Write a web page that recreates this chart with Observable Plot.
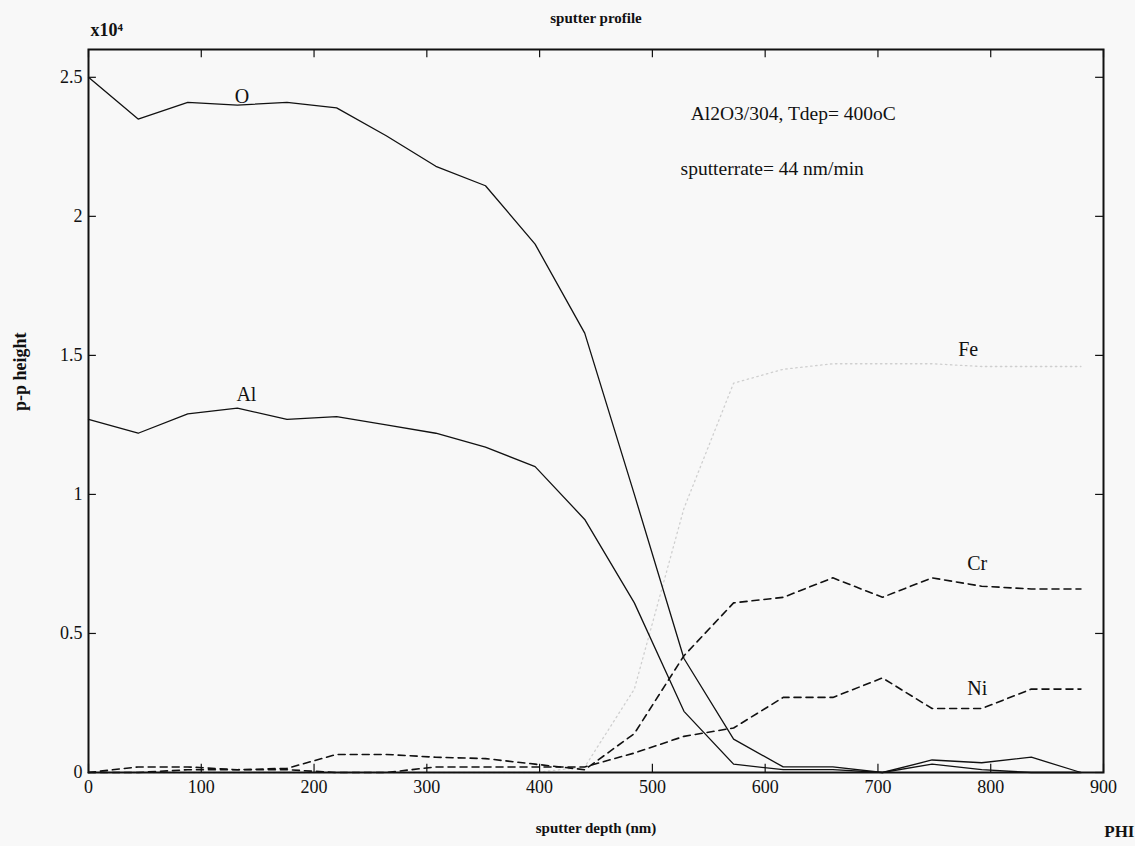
<!DOCTYPE html>
<html>
<head>
<meta charset="utf-8">
<script src="https://cdn.jsdelivr.net/npm/d3@7"></script>
<script src="https://cdn.jsdelivr.net/npm/@observablehq/plot@0.6"></script>
<style>
  html, body { margin: 0; padding: 0; background: #f8f8f8; }
  #chart svg { display: block; }
</style>
</head>
<body>
<div id="chart"></div>
<script>
// sputter depth (nm), one sample per minute at 44 nm/min
const depth = [0, 44, 88, 132, 176, 220, 264, 308, 352, 396, 440, 484, 528, 572, 616, 660, 704, 748, 792, 836, 880];
// peak-to-peak heights (x10^4)
const O  = [2.50, 2.35, 2.41, 2.40, 2.41, 2.39, 2.29, 2.18, 2.11, 1.90, 1.58, 1.00, 0.41, 0.12, 0.02, 0.02, 0.00, 0.045, 0.035, 0.055, 0.00];
const Al = [1.27, 1.22, 1.29, 1.31, 1.27, 1.28, 1.25, 1.22, 1.17, 1.10, 0.91, 0.61, 0.22, 0.03, 0.01, 0.01, 0.00, 0.03, 0.01, 0.00, 0.00];
const Cr = [0.00, 0.02, 0.02, 0.01, 0.015, 0.065, 0.065, 0.055, 0.05, 0.03, 0.01, 0.14, 0.42, 0.61, 0.63, 0.70, 0.63, 0.70, 0.67, 0.66, 0.66];
const Ni = [0.00, 0.00, 0.01, 0.01, 0.01, 0.00, 0.00, 0.02, 0.02, 0.02, 0.02, 0.07, 0.13, 0.16, 0.27, 0.27, 0.34, 0.23, 0.23, 0.30, 0.30];
const Fe = [0.00, 0.00, 0.00, 0.00, 0.00, 0.00, 0.00, 0.00, 0.00, 0.00, 0.02, 0.30, 0.95, 1.40, 1.45, 1.47, 1.47, 1.47, 1.46, 1.46, 1.46];

const xTicks = [0, 100, 200, 300, 400, 500, 600, 700, 800, 900];
const yTicks = [0, 0.5, 1, 1.5, 2, 2.5];

// curve labels (name, depth, height)
const labelNames = ["O", "Al", "Fe", "Cr", "Ni"];
const labelDepth = [136, 140, 780, 788, 788];
const labelHeight = [2.43, 1.36, 1.52, 0.75, 0.30];

const notes = ["Al2O3/304, Tdep= 400oC", "sputterrate= 44 nm/min"];
const noteDepth = [534, 525];
const noteHeight = [2.37, 2.17];

const rows = (name, arr) => depth.map((d, i) => ({depth: d, value: arr[i], element: name}));
const solid = [...rows("O", O), ...rows("Al", Al)];
const dashed = [...rows("Cr", Cr), ...rows("Ni", Ni)];
const faint = rows("Fe", Fe);
const labels = labelNames.map((n, i) => ({name: n, x: labelDepth[i], y: labelHeight[i]}));
const noteRows = notes.map((t, i) => ({t, x: noteDepth[i], y: noteHeight[i]}));

const serif = "'Liberation Serif', 'DejaVu Serif', serif";

const chart = Plot.plot({
  width: 1135,
  height: 846,
  marginLeft: 88,
  marginRight: 32,
  marginTop: 49,
  marginBottom: 74,
  style: {fontFamily: serif, fontSize: "18px", background: "#f8f8f8", color: "#111"},
  x: {domain: [0, 900]},
  y: {domain: [0, 2.6]},
  marks: [
    Plot.line(faint, {x: "depth", y: "value", stroke: "#cfcfcf", strokeWidth: 1.3, strokeDasharray: "1.5 3.5"}),
    Plot.line(dashed, {x: "depth", y: "value", z: "element", stroke: "#111", strokeWidth: 1.6, strokeDasharray: "7 5"}),
    Plot.line(solid, {x: "depth", y: "value", z: "element", stroke: "#111", strokeWidth: 1.3}),
    // inward ticks on all four sides
    Plot.ruleX(xTicks, {x: d => d, y1: 0, y2: 0.03, stroke: "#111", strokeWidth: 1.2}),
    Plot.ruleX(xTicks, {x: d => d, y1: 2.6, y2: 2.57, stroke: "#111", strokeWidth: 1.2}),
    Plot.ruleY(yTicks, {y: d => d, x1: 0, x2: 7, stroke: "#111", strokeWidth: 1.2}),
    Plot.ruleY(yTicks, {y: d => d, x1: 900, x2: 893, stroke: "#111", strokeWidth: 1.2}),
    Plot.axisX(xTicks, {anchor: "bottom", tickSize: 0, tickPadding: 8, label: null, fontSize: 18, tickFormat: d => String(d)}),
    Plot.axisY(yTicks, {anchor: "left", tickSize: 0, tickPadding: 6, label: null, fontSize: 18, tickFormat: d => String(d)}),
    Plot.frame({stroke: "#111", strokeWidth: 2}),
    Plot.text(labels, {x: "x", y: "y", text: "name", fontSize: 20, fill: "#111"}),
    Plot.text(noteRows, {x: "x", y: "y", text: "t", textAnchor: "start", fontSize: 19.5, fill: "#111"}),
    Plot.text(["sputter profile"], {text: d => d, frameAnchor: "top", dy: -37, fontSize: 15, fontWeight: "bold"}),
    Plot.text(["x10\u2074"], {text: d => d, frameAnchor: "top-left", textAnchor: "start", dx: 2, dy: -26, fontSize: 18, fontWeight: "bold"}),
    Plot.text(["sputter depth (nm)"], {text: d => d, frameAnchor: "bottom", dy: 60, fontSize: 15, fontWeight: "bold"}),
    Plot.text(["PHI"], {text: d => d, frameAnchor: "bottom-right", textAnchor: "end", dx: 31, dy: 64, fontSize: 17, fontWeight: "bold"}),
    Plot.text(["p-p height"], {text: d => d, frameAnchor: "left", dx: -68, rotate: -90, fontSize: 18, fontWeight: "bold"})
  ]
});
document.getElementById("chart").appendChild(chart);
</script>
</body>
</html>
